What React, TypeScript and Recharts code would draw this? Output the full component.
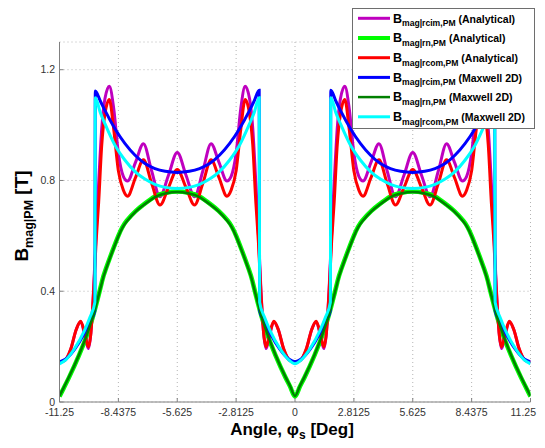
import { LineChart, Line, XAxis, YAxis, CartesianGrid, Legend, Label } from "recharts"

const FONT = "'Liberation Sans', Arial, Helvetica, sans-serif"

// axis ticks
const angleTicks = [-11.25, -8.4375, -5.625, -2.8125, 0, 2.8125, 5.625, 8.4375, 11.25]
const fluxTicks = [0, 0.4, 0.8, 1.2]

// analytical rcim / rcom curves (deg)
const analyticAngles = [
  -11.25, -11.0, -10.72, -10.45, -10.24, -10.05, -9.87, -9.75, -9.62, -9.5, -9.38, -9.23, -9.08, -8.87, -8.66, -8.44,
  -8.2, -8.0, -7.62, -7.24, -6.85, -6.45, -6.04, -5.625, -5.21, -4.8, -4.4, -4.01, -3.63, -3.25, -3.05, -2.81, -2.59,
  -2.38, -2.17, -2.02, -1.87, -1.75, -1.63, -1.5, -1.38, -1.2, -1.01, -0.8, -0.53, -0.25, 0,
  0.25, 0.53, 0.8, 1.01, 1.2, 1.38, 1.5, 1.63, 1.75, 1.87, 2.02, 2.17, 2.38, 2.59, 2.81, 3.05, 3.25, 3.63, 4.01, 4.4,
  4.8, 5.21, 5.625, 6.04, 6.45, 6.85, 7.24, 7.62, 8.0, 8.2, 8.44, 8.66, 8.87, 9.08, 9.23, 9.38, 9.5, 9.62, 9.75, 9.87,
  10.05, 10.24, 10.45, 10.72, 11.0, 11.25,
]
const rcimAnalytical = [
  0.144, 0.15, 0.188, 0.262, 0.29, 0.245, 0.193, 0.25, 0.41, 0.61, 0.79, 0.99, 1.095, 1.14, 1.06, 0.9,
  0.815, 0.798, 0.865, 0.933, 0.835, 0.741, 0.82, 0.901, 0.82, 0.741, 0.835, 0.933, 0.865, 0.798, 0.815, 0.9, 1.06,
  1.14, 1.095, 0.99, 0.79, 0.61, 0.41, 0.25, 0.193, 0.245, 0.29, 0.262, 0.188, 0.15, 0.144,
  0.15, 0.188, 0.262, 0.29, 0.245, 0.193, 0.25, 0.41, 0.61, 0.79, 0.99, 1.095, 1.14, 1.06, 0.9, 0.815, 0.798, 0.865,
  0.933, 0.835, 0.741, 0.82, 0.901, 0.82, 0.741, 0.835, 0.933, 0.865, 0.798, 0.815, 0.9, 1.06, 1.14, 1.095, 0.99,
  0.79, 0.61, 0.41, 0.25, 0.193, 0.245, 0.29, 0.262, 0.188, 0.15, 0.144,
]
const rcomAnalytical = [
  0.144, 0.15, 0.19, 0.262, 0.292, 0.25, 0.199, 0.25, 0.4, 0.58, 0.72, 0.93, 1.04, 1.092, 0.985, 0.836,
  0.765, 0.743, 0.81, 0.875, 0.79, 0.711, 0.775, 0.84, 0.775, 0.711, 0.79, 0.875, 0.81, 0.743, 0.765, 0.836, 0.985,
  1.092, 1.04, 0.93, 0.72, 0.58, 0.4, 0.25, 0.199, 0.25, 0.292, 0.262, 0.19, 0.15, 0.144,
  0.15, 0.19, 0.262, 0.292, 0.25, 0.199, 0.25, 0.4, 0.58, 0.72, 0.93, 1.04, 1.092, 0.985, 0.836, 0.765, 0.743, 0.81,
  0.875, 0.79, 0.711, 0.775, 0.84, 0.775, 0.711, 0.79, 0.875, 0.81, 0.743, 0.765, 0.836, 0.985, 1.092, 1.04, 0.93,
  0.72, 0.58, 0.4, 0.25, 0.199, 0.25, 0.292, 0.262, 0.19, 0.15, 0.144,
]

// Maxwell 2D rcim / rcom curves
const maxwellAngles = [
  -11.25, -10.95, -10.53, -10.06, -9.8, -9.56, -9.54, -9.3, -9.08, -8.6, -8.12, -7.64, -7.17, -6.69, -6.2, -5.625,
  -5.05, -4.56, -4.08, -3.61, -3.13, -2.65, -2.17, -1.95, -1.71, -1.69, -1.45, -1.19, -0.72, -0.3, 0,
  0.3, 0.72, 1.19, 1.45, 1.69, 1.71, 1.95, 2.17, 2.65, 3.13, 3.61, 4.08, 4.56, 5.05, 5.625, 6.2, 6.69, 7.17, 7.64,
  8.12, 8.6, 9.08, 9.3, 9.54, 9.56, 9.8, 10.06, 10.53, 10.95, 11.25,
]
const rcimMaxwell = [
  0.145, 0.155, 0.19, 0.248, 0.288, 0.33, 1.123, 1.087, 1.053, 0.987, 0.933, 0.891, 0.861, 0.843, 0.833, 0.829,
  0.833, 0.843, 0.861, 0.891, 0.933, 0.987, 1.053, 1.087, 1.126, 0.33, 0.288, 0.248, 0.19, 0.155, 0.145,
  0.155, 0.19, 0.248, 0.288, 0.33, 1.126, 1.087, 1.053, 0.987, 0.933, 0.891, 0.861, 0.843, 0.833, 0.829, 0.833,
  0.843, 0.861, 0.891, 0.933, 0.987, 1.053, 1.087, 1.123, 0.33, 0.288, 0.248, 0.19, 0.155, 0.145,
]
const rcomMaxwell = [
  0.138, 0.152, 0.193, 0.258, 0.305, 0.36, 1.099, 1.045, 1.005, 0.927, 0.873, 0.832, 0.805, 0.786, 0.775, 0.771,
  0.775, 0.786, 0.805, 0.832, 0.873, 0.927, 1.005, 1.045, 1.099, 0.36, 0.305, 0.258, 0.193, 0.152, 0.138,
  0.152, 0.193, 0.258, 0.305, 0.36, 1.099, 1.045, 1.005, 0.927, 0.873, 0.832, 0.805, 0.786, 0.775, 0.771, 0.775,
  0.786, 0.805, 0.832, 0.873, 0.927, 1.005, 1.045, 1.099, 0.36, 0.305, 0.258, 0.193, 0.152, 0.138,
]

// rn curves (both models)
const rnAngles = [
  -11.25, -11.05, -10.8, -10.32, -9.84, -9.52, -9.23, -9.03, -8.44, -8.04, -7.6, -7.25, -6.69, -6.2, -5.625,
  -5.05, -4.56, -4.0, -3.65, -3.21, -2.81, -2.22, -2.02, -1.73, -1.41, -0.93, -0.45, -0.2, 0,
  0.2, 0.45, 0.93, 1.41, 1.73, 2.02, 2.22, 2.81, 3.21, 3.65, 4.0, 4.56, 5.05, 5.625, 6.2, 6.69, 7.25, 7.6, 8.04,
  8.44, 9.03, 9.23, 9.52, 9.84, 10.32, 10.8, 11.05, 11.25,
]
const rnAnalytical = [
  0.02, 0.05, 0.088, 0.168, 0.263, 0.345, 0.432, 0.482, 0.6, 0.655, 0.69, 0.712, 0.742, 0.755, 0.76,
  0.755, 0.742, 0.712, 0.69, 0.655, 0.6, 0.482, 0.432, 0.345, 0.263, 0.168, 0.088, 0.05, 0.02,
  0.05, 0.088, 0.168, 0.263, 0.345, 0.432, 0.482, 0.6, 0.655, 0.69, 0.712, 0.742, 0.755, 0.76, 0.755, 0.742, 0.712,
  0.69, 0.655, 0.6, 0.482, 0.432, 0.345, 0.263, 0.168, 0.088, 0.05, 0.02,
]
const rnMaxwell = [
  0.022, 0.052, 0.09, 0.17, 0.265, 0.345, 0.43, 0.48, 0.598, 0.652, 0.688, 0.71, 0.74, 0.753, 0.758,
  0.753, 0.74, 0.71, 0.688, 0.652, 0.598, 0.48, 0.43, 0.345, 0.265, 0.17, 0.09, 0.052, 0.022,
  0.052, 0.09, 0.17, 0.265, 0.345, 0.43, 0.48, 0.598, 0.652, 0.688, 0.71, 0.74, 0.753, 0.758, 0.753, 0.74, 0.71,
  0.688, 0.652, 0.598, 0.48, 0.43, 0.345, 0.265, 0.17, 0.09, 0.052, 0.022,
]

const toPoints = (angles: number[], values: number[]) => angles.map((a, i) => ({ a, v: values[i] }))

// drawn in this order (last on top)
const series = [
  { id: "rcimA", sub: "mag|rcim,PM", tag: "(Analytical)", color: "#bf00bf", width: 3, curve: "monotone", data: toPoints(analyticAngles, rcimAnalytical) },
  { id: "rnA", sub: "mag|rn,PM", tag: "(Analytical)", color: "#00ff00", width: 4.5, curve: "natural", data: toPoints(rnAngles, rnAnalytical) },
  { id: "rcomA", sub: "mag|rcom,PM", tag: "(Analytical)", color: "#ff0000", width: 3, curve: "monotone", data: toPoints(analyticAngles, rcomAnalytical) },
  { id: "rcimM", sub: "mag|rcim,PM", tag: "(Maxwell 2D)", color: "#0000ff", width: 3, curve: "monotone", data: toPoints(maxwellAngles, rcimMaxwell) },
  { id: "rnM", sub: "mag|rn,PM", tag: "(Maxwell 2D)", color: "#008000", width: 2.5, curve: "natural", data: toPoints(rnAngles, rnMaxwell) },
  { id: "rcomM", sub: "mag|rcom,PM", tag: "(Maxwell 2D)", color: "#00ffff", width: 3, curve: "monotone", data: toPoints(maxwellAngles, rcomMaxwell) },
]

const renderLegend = () => (
  <svg width={184} height={122} style={{ display: "block", fontFamily: FONT }}>
    <rect x={0.5} y={0.5} width={182} height={120} fill="#fff" stroke="#6e6e6e" />
    {series.map((s, i) => {
      const y = 10.3 + i * 19.7
      return (
        <g key={s.id}>
          <line x1={6} x2={38} y1={y} y2={y} stroke={s.color} strokeWidth={s.width > 4 ? 4 : s.width} />
          <text x={41} y={y + 4.3} fontWeight="bold" fill="#000">
            <tspan fontSize={12.5}>B</tspan>
            <tspan fontSize={8.6} dy={3.6}>{s.sub}</tspan>
            <tspan fontSize={10.5} dy={-3.6}>{" " + s.tag}</tspan>
          </text>
        </g>
      )
    })}
  </svg>
)

const renderTitle = () => (
  <text x={238.5} y={31.5} textAnchor="middle" fontFamily={FONT} fontWeight="bold" fontSize={14.6} fill="#000">
    The Amplitud of Flux Density
  </text>
)

const renderXLabel = () => (
  <text x={292} y={435} textAnchor="middle" fontFamily={FONT} fontWeight="bold" fontSize={17} fill="#000">
    Angle, φ
    <tspan fontSize={12} dy={4}>s</tspan>
    <tspan dy={-4}> [Deg]</tspan>
  </text>
)

const renderYLabel = () => (
  <text x={28} y={216} transform="rotate(-90, 28, 216)" textAnchor="middle" fontFamily={FONT} fontWeight="bold" fontSize={19} fill="#000">
    B
    <tspan fontSize={12.5} dy={4.5}>mag|PM</tspan>
    <tspan dy={-4.5}> [T]</tspan>
  </text>
)

// x tick labels; the last one is pulled left so it stays inside the picture
const AngleTick = ({ x, y, payload }: any) => {
  const last = payload.value === angleTicks[angleTicks.length - 1]
  return (
    <text
      x={last ? 536 : x}
      y={y}
      dy="0.71em"
      textAnchor={last ? "end" : "middle"}
      fontSize={10.5}
      fill="#333"
      fontFamily={FONT}
    >
      {String(payload.value)}
    </text>
  )
}

const tickStyle = { fontSize: 10.5, fill: "#333", fontFamily: FONT }

export default function App() {
  return (
    <div style={{ position: "relative", width: 545, height: 448, margin: -8, background: "#fff", overflow: "hidden" }}>
      <LineChart width={545} height={448} margin={{ top: 42, right: 14.5, left: 0, bottom: 16 }}>
        <CartesianGrid stroke="#b4b4b4" strokeDasharray="1 3" />
        <XAxis
          dataKey="a"
          type="number"
          domain={[-11.25, 11.25]}
          ticks={angleTicks}
          allowDataOverflow
          interval={0}
          height={30}
          stroke="#808080"
          tickSize={-4}
          tickMargin={11}
          tick={AngleTick}
        >
          <Label content={renderXLabel} />
        </XAxis>
        <XAxis
          xAxisId="top"
          orientation="top"
          type="number"
          domain={[-11.25, 11.25]}
          ticks={angleTicks}
          allowDataOverflow
          height={0}
          stroke="#808080"
          tickSize={-4}
          tick={false}
        >
          <Label content={renderTitle} />
        </XAxis>
        <YAxis
          type="number"
          domain={[0, 1.3]}
          ticks={fluxTicks}
          allowDataOverflow
          interval={0}
          width={59.5}
          stroke="#808080"
          tickSize={-4}
          tickMargin={8.5}
          tick={tickStyle}
        >
          <Label content={renderYLabel} />
        </YAxis>
        <YAxis
          yAxisId="right"
          orientation="right"
          type="number"
          domain={[0, 1.3]}
          ticks={fluxTicks}
          allowDataOverflow
          width={0}
          stroke="#808080"
          tickSize={-4}
          tick={false}
        />
        {series.map((s) => (
          <Line
            key={s.id}
            data={s.data}
            dataKey="v"
            type={s.curve as any}
            stroke={s.color}
            strokeWidth={s.width}
            dot={false}
            activeDot={false}
            isAnimationActive={false}
          />
        ))}
        <Legend
          layout="horizontal"
          align="center"
          verticalAlign="middle"
          content={renderLegend}
          wrapperStyle={{ top: 8, left: 352, width: 184, height: 122 }}
        />
      </LineChart>
    </div>
  )
}
